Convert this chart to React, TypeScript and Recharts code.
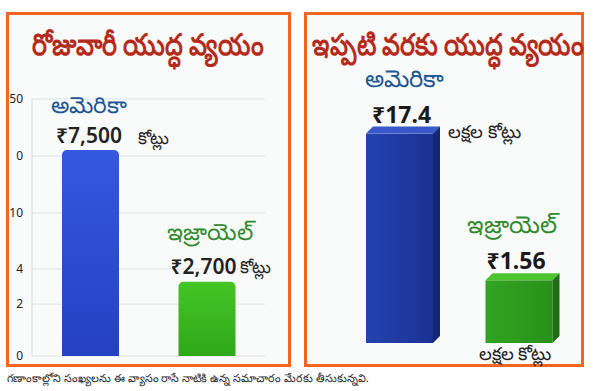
import { BarChart, Bar, XAxis, YAxis, CartesianGrid, Cell, LabelList } from "recharts"

// daily spend (కోట్లు)
const countries = ["అమెరికా", "ఇజ్రాయెల్"]
const dailySpend = [7500, 2700]
const dailyValueText = ["₹7,500", "₹2,700"]
const dailyUnit = "కోట్లు"
const dailyTicks = [0, 1890, 3170, 5210, 7280, 9360]
const dailyTickLabels = ["0", "2", "4", "10", "0", "50"]

// total spend so far (లక్షల కోట్లు)
const totalSpend = [17.4, 1.56]
const totalValueText = ["₹17.4", "₹1.56"]
const totalUnit = "లక్షల కోట్లు"

const leftTitle = "రోజువారీ యుద్ధ వ్యయం"
const rightTitle = "ఇప్పటి వరకు యుద్ధ వ్యయం"
const footNote = "గణాంకాల్లోని సంఖ్యలను ఈ వ్యాసం రాసే నాటికి ఉన్న సమాచారం మేరకు తీసుకున్నవి."

const dailyData = countries.map((c, i) => ({ name: c, value: dailySpend[i] }))
const totalData = countries.map((c, i) => ({ name: c, value: totalSpend[i] }))

const FONT = "'Noto Sans', 'DejaVu Sans', sans-serif"
const ORANGE = "#f26522"
const NAME_COLORS = ["#1c5794", "#2f8a2c"]

// label offsets relative to the bar (dx, dy from top-left of bar)
const LEFT_LAYOUT = [
  { name: [-11, -46], value: [-6, -15], unit: [76, -13] },
  { name: [-12, -51], value: [-8, -16], unit: [61, -15] },
]
const RIGHT_LAYOUT = [
  { name: [-1, -56], value: [6, -20], unit: [82, -3], unitFromBottom: false },
  { name: [-19, -57], value: [1, -20], unit: [-7, 10], unitFromBottom: true },
]

const FACES = [
  { front: "url(#blueFront)", top: "#3a57c9", side: "#132777" },
  { front: "url(#greenFront)", top: "#4cc431", side: "#1f6d14" },
]

function LeftLabel(props: any) {
  const { x, y, index } = props
  const l = LEFT_LAYOUT[index]
  return (
    <g fontFamily={FONT}>
      <text x={x + l.name[0]} y={y + l.name[1]} dominantBaseline="central" fontSize={23} fontWeight={500} fill={NAME_COLORS[index]}>
        {countries[index]}
      </text>
      <text x={x + l.value[0]} y={y + l.value[1]} dominantBaseline="central" fontSize={21} fontWeight={600} fill="#222">
        {dailyValueText[index]}
      </text>
      <text x={x + l.unit[0]} y={y + l.unit[1]} dominantBaseline="central" fontSize={17} fill="#222">
        {dailyUnit}
      </text>
    </g>
  )
}

function RightLabel(props: any) {
  const { x, y, height, index } = props
  const l = RIGHT_LAYOUT[index]
  const uy = l.unitFromBottom ? y + height + l.unit[1] : y + l.unit[1]
  return (
    <g fontFamily={FONT}>
      <text x={x + l.name[0]} y={y + l.name[1]} dominantBaseline="central" fontSize={24} fontWeight={500} fill={NAME_COLORS[index]}>
        {countries[index]}
      </text>
      <text x={x + l.value[0]} y={y + l.value[1]} dominantBaseline="central" fontSize={23} fontWeight={700} fill="#1a1a1a">
        {totalValueText[index]}
      </text>
      <text x={x + l.unit[0]} y={uy} dominantBaseline="central" fontSize={18} fill="#222">
        {totalUnit}
      </text>
    </g>
  )
}

function Bar3D(props: any) {
  const { x, y, width, height, index } = props
  const d = 7
  const f = FACES[index]
  return (
    <g>
      <rect x={x} y={y} width={width} height={height} fill={f.front} />
      <polygon points={`${x},${y} ${x + d},${y - d} ${x + width + d},${y - d} ${x + width},${y}`} fill={f.top} />
      <polygon
        points={`${x + width},${y} ${x + width + d},${y - d} ${x + width + d},${y + height - d} ${x + width},${y + height}`}
        fill={f.side}
      />
    </g>
  )
}

const panel = (left: number, width: number): React.CSSProperties => ({
  position: "absolute",
  left,
  top: 12,
  width,
  height: 355,
  border: `3px solid ${ORANGE}`,
  boxSizing: "border-box",
  background: "#f9fafa",
})

const titleStyle: React.CSSProperties = {
  position: "absolute",
  top: 22,
  fontFamily: FONT,
  fontSize: 30,
  fontWeight: 600,
  color: "#b52b1b",
  whiteSpace: "nowrap",
  lineHeight: "44px",
  transform: "scaleX(0.84)",
  transformOrigin: "left center",
}

export default function App() {
  return (
    <div style={{ position: "absolute", left: 0, top: 0, width: 593, height: 391, background: "#fff", overflow: "hidden" }}>
      <div style={panel(6, 285)} />
      <div style={panel(304, 280)} />
      <div style={{ ...titleStyle, left: 32 }}>{leftTitle}</div>
      <div style={{ ...titleStyle, left: 312 }}>{rightTitle}</div>

      <div style={{ position: "absolute", left: 0, top: 0 }}>
        <BarChart width={290} height={370} data={dailyData} margin={{ top: 99, right: 25, left: 0, bottom: 14 }}>
          <defs>
            <linearGradient id="blueLeft" x1="0" y1="0" x2="0" y2="1">
              <stop offset="0%" stopColor="#3458df" />
              <stop offset="100%" stopColor="#2441c2" />
            </linearGradient>
            <linearGradient id="greenLeft" x1="0" y1="0" x2="0" y2="1">
              <stop offset="0%" stopColor="#45c526" />
              <stop offset="100%" stopColor="#2fa819" />
            </linearGradient>
          </defs>
          <CartesianGrid vertical={false} stroke="#dde3e5" />
          <XAxis dataKey="name" tick={false} tickLine={false} axisLine={{ stroke: "#d5dadc" }} height={0} />
          <YAxis
            width={32}
            domain={[0, 9360]}
            ticks={dailyTicks}
            tickFormatter={(v: number) => dailyTickLabels[dailyTicks.indexOf(v)]}
            tickLine={false}
            tickSize={0}
            tickMargin={9}
            axisLine={{ stroke: "#d5dadc" }}
            tick={{ fill: "#222", fontSize: 12, fontFamily: FONT }}
            interval={0}
          />
          <Bar dataKey="value" barSize={57} radius={[5, 5, 0, 0]} isAnimationActive={false}>
            {dailyData.map((d, i) => (
              <Cell key={d.name} fill={i === 0 ? "url(#blueLeft)" : "url(#greenLeft)"} />
            ))}
            <LabelList dataKey="value" content={LeftLabel} />
          </Bar>
        </BarChart>
      </div>

      <div style={{ position: "absolute", left: 300, top: 0 }}>
        <BarChart width={293} height={370} data={totalData} margin={{ top: 92, right: 14, left: 40, bottom: 27 }}>
          <defs>
            <linearGradient id="blueFront" x1="0" y1="0" x2="1" y2="0">
              <stop offset="0%" stopColor="#2443b0" />
              <stop offset="100%" stopColor="#1a3293" />
            </linearGradient>
            <linearGradient id="greenFront" x1="0" y1="0" x2="1" y2="0">
              <stop offset="0%" stopColor="#33a422" />
              <stop offset="100%" stopColor="#2a901b" />
            </linearGradient>
            <marker id="arrow" viewBox="0 0 10 10" refX="5" refY="5" markerWidth="6" markerHeight="6" orient="auto-start-reverse">
              <path d="M0,1 L10,5 L0,9 z" fill="#c9cdd0" />
            </marker>
          </defs>
          <XAxis
            dataKey="name"
            tick={false}
            tickLine={false}
            height={0}
            axisLine={{ stroke: "#c9cdd0", strokeWidth: 1.5, markerEnd: "url(#arrow)" }}
          />
          <YAxis
            width={0}
            scale="sqrt"
            domain={[0, 25]}
            tick={false}
            tickLine={false}
            axisLine={{ stroke: "#c9cdd0", strokeWidth: 1.5, markerStart: "url(#arrow)" }}
          />
          <Bar dataKey="value" barSize={67} shape={Bar3D} isAnimationActive={false}>
            <LabelList dataKey="value" content={RightLabel} />
          </Bar>
        </BarChart>
      </div>

      <div
        style={{
          position: "absolute",
          left: 7,
          top: 370,
          fontFamily: FONT,
          fontSize: 11,
          color: "#222",
          whiteSpace: "nowrap",
        }}
      >
        {footNote}
      </div>
    </div>
  )
}
